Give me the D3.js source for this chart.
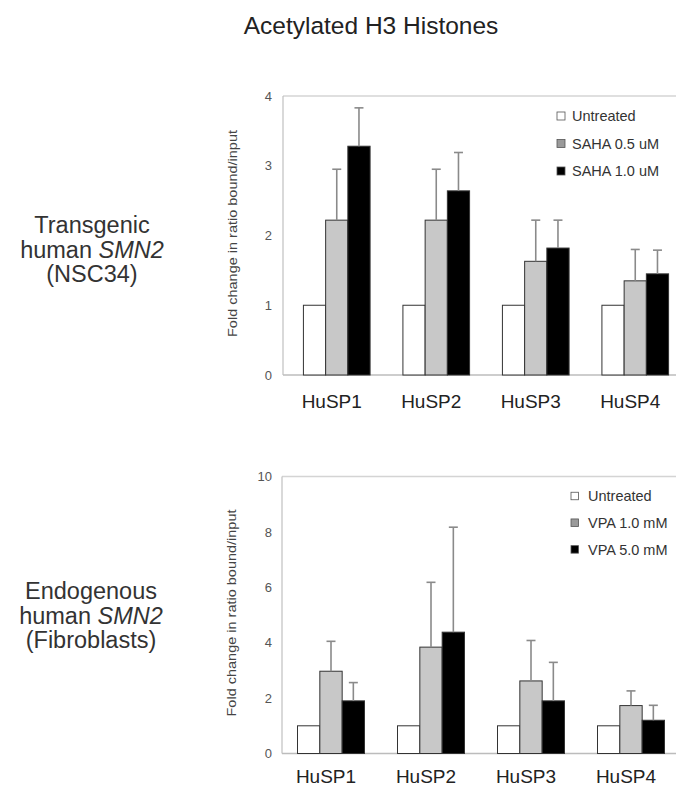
<!DOCTYPE html>
<html>
<head>
<meta charset="utf-8">
<script src="https://cdn.jsdelivr.net/npm/d3@7"></script>
<style>
  body { margin: 0; background: #fff; }
  svg { display: block; font-family: "Liberation Sans", Arial, sans-serif; }
</style>
</head>
<body>
<script>
// Categories (promoter regions)
var categories = ["HuSP1", "HuSP2", "HuSP3", "HuSP4"];

// Top panel: SAHA in NSC34 cells
var sahaSeries = ["Untreated", "SAHA 0.5 uM", "SAHA 1.0 uM"];
var sahaUntreated = [1, 1, 1, 1];
var saha05 = [2.22, 2.22, 1.63, 1.35];
var saha10 = [3.28, 2.64, 1.82, 1.45];
var saha05Err = [0.73, 0.73, 0.59, 0.45];
var saha10Err = [0.55, 0.55, 0.40, 0.34];
var sahaTicks = [0, 1, 2, 3, 4];

// Bottom panel: VPA in fibroblasts
var vpaSeries = ["Untreated", "VPA 1.0 mM", "VPA 5.0 mM"];
var vpaUntreated = [1, 1, 1, 1];
var vpa10 = [2.97, 3.84, 2.62, 1.73];
var vpa50 = [1.90, 4.38, 1.90, 1.20];
var vpa10Err = [1.08, 2.34, 1.46, 0.53];
var vpa50Err = [0.66, 3.79, 1.39, 0.54];
var vpaTicks = [0, 2, 4, 6, 8, 10];

var W = 678, H = 786;
var fills = ["#ffffff", "#c8c8c8", "#000000"];
var swatchFills = ["#ffffff", "#9a9a9a", "#000000"];

var svg = d3.select("body").append("svg")
  .attr("width", W)
  .attr("height", H);

// Title
svg.append("text")
  .attr("x", 371).attr("y", 34)
  .attr("text-anchor", "middle")
  .attr("font-size", 24.5)
  .attr("fill", "#222")
  .text("Acetylated H3 Histones");

function sideLabel(cx, y0, first, last) {
  var t = svg.append("text")
    .attr("text-anchor", "middle")
    .attr("font-size", 23.5)
    .attr("fill", "#333");
  t.append("tspan").attr("x", cx).attr("y", y0).text(first);
  var l2 = t.append("tspan").attr("x", cx).attr("y", y0 + 24.5);
  l2.append("tspan").text("human ");
  l2.append("tspan").attr("font-style", "italic").text("SMN2");
  t.append("tspan").attr("x", cx).attr("y", y0 + 49).text(last);
}
sideLabel(92, 233, "Transgenic", "(NSC34)");
sideLabel(91, 599, "Endogenous", "(Fibroblasts)");

function drawPanel(p) {
  var g = svg.append("g");

  var x = d3.scaleBand()
    .domain(categories)
    .range(p.xRange)
    .paddingInner(0.33)
    .paddingOuter(0.165);
  var xs = d3.scaleBand()
    .domain(d3.range(3))
    .range([0, x.bandwidth()]);
  var y = d3.scaleLinear()
    .domain([0, p.yMax])
    .range(p.yRange);

  // frame: top, left, baseline
  g.append("line")
    .attr("x1", p.frameLeft).attr("x2", p.frameRight)
    .attr("y1", y(p.yMax)).attr("y2", y(p.yMax))
    .attr("stroke", "#d4d4d4").attr("stroke-width", 1.5);
  g.append("line")
    .attr("x1", p.frameLeft).attr("x2", p.frameLeft)
    .attr("y1", y(p.yMax)).attr("y2", y(0))
    .attr("stroke", "#c0c0c0").attr("stroke-width", 1.2);
  g.append("line")
    .attr("x1", p.frameLeft).attr("x2", p.frameRight)
    .attr("y1", y(0)).attr("y2", y(0))
    .attr("stroke", "#bcbcbc").attr("stroke-width", 1.5);

  // y tick labels
  g.selectAll(".ytick")
    .data(p.ticks).enter()
    .append("text")
      .attr("class", "ytick")
      .attr("x", 272)
      .attr("y", function(d) { return y(d); })
      .attr("dy", "0.36em")
      .attr("text-anchor", "end")
      .attr("font-size", 13)
      .attr("fill", "#555")
      .text(function(d) { return d; });

  // y axis title
  g.append("text")
    .attr("transform", "translate(" + p.yLabelX + "," + ((y(0) + y(p.yMax)) / 2 - 2) + ") rotate(-90)")
    .attr("text-anchor", "middle")
    .attr("dy", "0.35em")
    .attr("font-size", 12.5)
    .attr("textLength", 207)
    .attr("lengthAdjust", "spacingAndGlyphs")
    .attr("fill", "#444")
    .text("Fold change in ratio bound/input");

  // bars
  var rows = [];
  categories.forEach(function(c, i) {
    p.values.forEach(function(vals, s) {
      rows.push({ cat: c, s: s, v: vals[i], err: p.errors[s] ? p.errors[s][i] : null });
    });
  });

  g.selectAll(".bar")
    .data(rows).enter()
    .append("rect")
      .attr("class", "bar")
      .attr("x", function(d) { return x(d.cat) + xs(d.s); })
      .attr("y", function(d) { return y(d.v); })
      .attr("width", xs.bandwidth())
      .attr("height", function(d) { return y(0) - y(d.v); })
      .attr("fill", function(d) { return fills[d.s]; })
      .attr("stroke", "#333")
      .attr("stroke-width", 1);

  // error bars (upper only)
  var errRows = rows.filter(function(d) { return d.err != null; });
  var cap = 4.5;
  var eb = g.selectAll(".err")
    .data(errRows).enter()
    .append("g")
      .attr("class", "err")
      .attr("stroke", "#8a8a8a")
      .attr("stroke-width", 1.6);
  eb.append("line")
    .attr("x1", function(d) { return x(d.cat) + xs(d.s) + xs.bandwidth() / 2; })
    .attr("x2", function(d) { return x(d.cat) + xs(d.s) + xs.bandwidth() / 2; })
    .attr("y1", function(d) { return y(d.v); })
    .attr("y2", function(d) { return y(d.v + d.err); });
  eb.append("line")
    .attr("x1", function(d) { return x(d.cat) + xs(d.s) + xs.bandwidth() / 2 - cap; })
    .attr("x2", function(d) { return x(d.cat) + xs(d.s) + xs.bandwidth() / 2 + cap; })
    .attr("y1", function(d) { return y(d.v + d.err); })
    .attr("y2", function(d) { return y(d.v + d.err); });

  // category labels
  g.selectAll(".xlab")
    .data(categories).enter()
    .append("text")
      .attr("class", "xlab")
      .attr("x", function(d) { return x(d) + x.bandwidth() / 2 - 5; })
      .attr("y", p.xLabelY)
      .attr("text-anchor", "middle")
      .attr("font-size", 19)
      .attr("fill", "#222")
      .text(function(d) { return d; });

  // legend
  var lg = g.selectAll(".leg")
    .data(p.series).enter()
    .append("g")
      .attr("class", "leg")
      .attr("transform", function(d, i) {
        return "translate(" + p.legX + "," + (p.legY + i * p.legStep) + ")";
      });
  lg.append("rect")
    .attr("x", 0).attr("y", -p.sw / 2)
    .attr("width", p.sw).attr("height", p.sw)
    .attr("fill", function(d, i) { return swatchFills[i]; })
    .attr("stroke", "#555").attr("stroke-width", 0.8);
  lg.append("text")
    .attr("x", p.legTextDx)
    .attr("dy", "0.36em")
    .attr("font-size", 14.5)
    .attr("fill", "#333")
    .text(function(d) { return d; });
}

drawPanel({
  values: [sahaUntreated, saha05, saha10],
  errors: [null, saha05Err, saha10Err],
  series: sahaSeries,
  yMax: 4,
  ticks: sahaTicks,
  yRange: [375, 96],
  xRange: [287, 685],
  frameLeft: 283,
  frameRight: 676,
  yLabelX: 233,
  xLabelY: 408,
  legX: 557, legY: 116, legStep: 27.5, sw: 8, legTextDx: 15
});

drawPanel({
  values: [vpaUntreated, vpa10, vpa50],
  errors: [null, vpa10Err, vpa50Err],
  series: vpaSeries,
  yMax: 10,
  ticks: vpaTicks,
  yRange: [753.5, 476.5],
  xRange: [281, 681],
  frameLeft: 282,
  frameRight: 676,
  yLabelX: 232,
  xLabelY: 783,
  legX: 571, legY: 496, legStep: 26.7, sw: 7.5, legTextDx: 17
});
</script>
</body>
</html>
